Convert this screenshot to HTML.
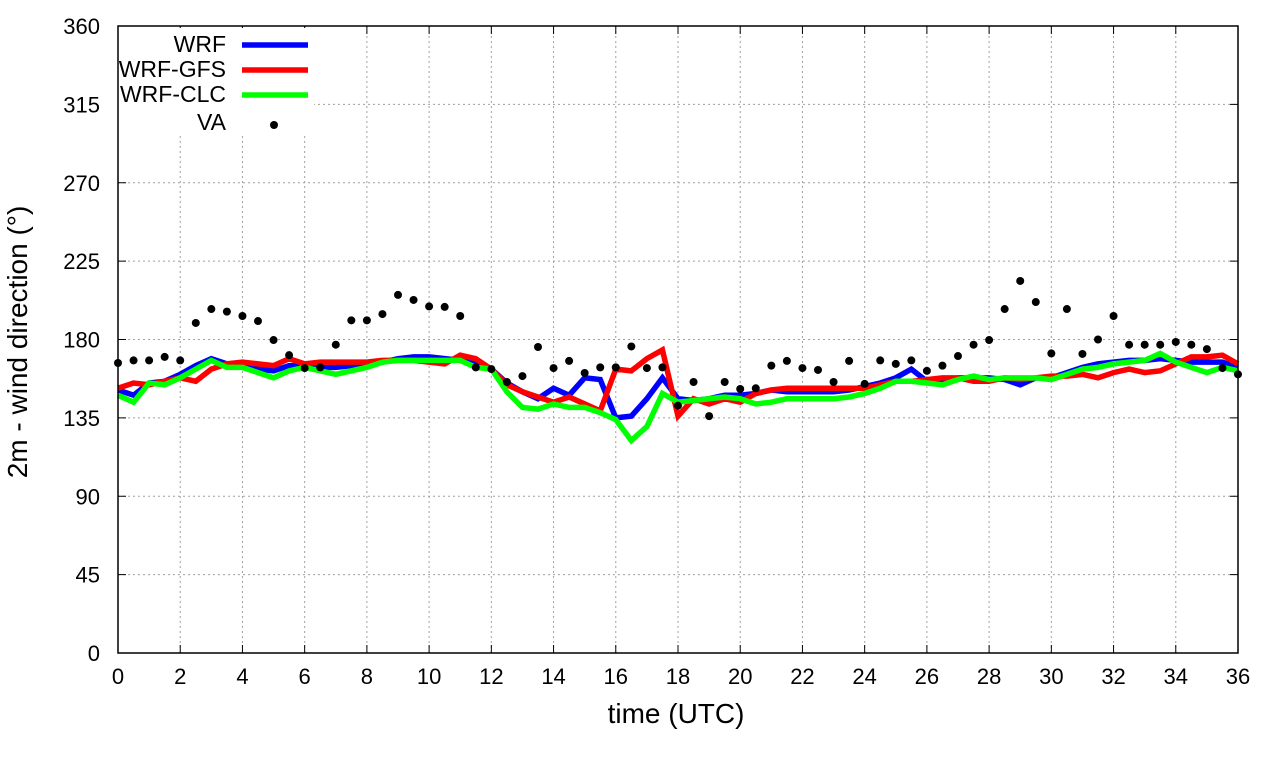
<!DOCTYPE html>
<html><head><meta charset="utf-8"><style>
body{margin:0;background:#fff;}
svg{display:block;font-family:"Liberation Sans",sans-serif;}
</style></head><body>
<svg id="chart" width="1280" height="760"></svg>
<script>
const hours=[];for(let i=0;i<=72;i++)hours.push(i*0.5);
const wrf=[151,148,155,156,160,165,169,166,165,163,162,165,165,164,164,165,166,167,169,170,170,169,168,166,163,155,150,146,152,148,158,157,135,136,146,158,146,145,146,148,148,149,151,150,150,150,150,151,153,155,158,163,156,155,158,158,158,157,154,158,158,161,164,166,167,168,168,169,168,167,167,167,164];
const wrfGfs=[152,155,154,156,158,156,163,166,167,166,165,169,166,167,167,167,167,168,168,168,167,166,171,169,163,154,150,147,144,147,143,139,163,162,169,174,136,146,143,146,144,149,151,152,152,152,152,152,152,154,156,156,157,158,158,156,156,158,157,158,159,159,160,158,161,163,161,162,166,170,170,171,166];
const wrfClc=[148,144,155,154,158,163,168,164,164,161,158,162,164,162,160,162,164,167,168,168,168,168,168,164,163,150,141,140,143,141,141,138,134,122,130,149,144,145,146,147,146,143,144,146,146,146,146,147,149,152,156,156,155,154,157,159,157,158,158,158,157,160,163,164,166,167,168,172,167,164,161,164,162];
const va=[166.5,168,168,170,168,189.5,197.5,196,193.5,190.6,179.7,171,163.6,164,177,191,191,194.6,205.6,202.7,199,198.7,193.5,164,163,155.6,159,175.7,163.6,167.7,160.8,164,164,176,163.6,164,142,155.6,136,155.6,151.6,152,165,167.7,163.6,162.5,155.6,167.7,154.5,168,166,168,162,165,170.5,177,179.7,197.5,213.6,201.5,172,197.5,171.7,180,193.5,177,177,177,178.6,177,174.5,163.6,160];
const xTicks=[0,2,4,6,8,10,12,14,16,18,20,22,24,26,28,30,32,34,36];
const yTicks=[0,45,90,135,180,225,270,315,360];

const svg=document.getElementById('chart');
const NS='http://www.w3.org/2000/svg';
const L=118,R=1238,T=26,B=653;
const xs=v=>L+(v/36)*(R-L);
const ys=v=>B-(v/360)*(B-T);
function mk(tag,attrs,parent){const e=document.createElementNS(NS,tag);for(const k in attrs)e.setAttribute(k,attrs[k]);(parent||svg).appendChild(e);return e;}

const grid=mk('g',{});


xTicks.forEach(t=>{
  if(t>0&&t<36){const g=mk('line',{x1:xs(t),x2:xs(t),y1:T,y2:B,stroke:'#a0a0a0','stroke-dasharray':'2,3','stroke-width':1},grid);
  
  }
  const tx=mk('text',{x:xs(t),y:B+31,'text-anchor':'middle','font-size':22,fill:'#000'});
  tx.textContent=t;
  
  
  mk('line',{x1:xs(t),x2:xs(t),y1:B,y2:B-8,stroke:'#000'});
  mk('line',{x1:xs(t),x2:xs(t),y1:T,y2:T+8,stroke:'#000'});
});
yTicks.forEach(t=>{
  if(t>0&&t<360){const g=mk('line',{x1:L,x2:R,y1:ys(t),y2:ys(t),stroke:'#a0a0a0','stroke-dasharray':'2,3','stroke-width':1},grid);
  
  }
  const tx=mk('text',{x:L-18,y:ys(t)+8,'text-anchor':'end','font-size':22,fill:'#000'});
  tx.textContent=t;
  
  
  mk('line',{x1:L,x2:L+8,y1:ys(t),y2:ys(t),stroke:'#000'});
  mk('line',{x1:R,x2:R-8,y1:ys(t),y2:ys(t),stroke:'#000'});
});

const lb=mk('rect',{x:108,y:28,width:206,height:108,fill:'#fff'});



function line(arr,color,name){
  const p=mk('polyline',{points:arr.map((v,i)=>xs(hours[i])+','+ys(v)).join(' '),fill:'none',stroke:color,'stroke-width':5.5,'stroke-linejoin':'miter'});
  
  
}
line(wrf,'#0000ff','series-wrf');
line(wrfGfs,'#ff0000','series-wrf-gfs');
line(wrfClc,'#00ff00','series-wrf-clc');
const dots=mk('g',{});


va.forEach((v,i)=>{const c=mk('circle',{cx:xs(hours[i]),cy:ys(v),r:4,fill:'#000'},dots);
  
  });

const ax=mk('rect',{x:L,y:T,width:R-L,height:B-T,fill:'none',stroke:'#000','stroke-width':1.5});



const leg=[['WRF','#0000ff',44],['WRF-GFS','#ff0000',69],['WRF-CLC','#00ff00',94],['VA','#000',122]];
leg.forEach(([n,c,y],i)=>{
  const g=mk('g',{});
  
  
  const t=mk('text',{x:226,y:y+8,'text-anchor':'end','font-size':23,fill:'#000'},g);t.textContent=n;
  if(i<3)mk('line',{x1:242,x2:308,y1:y+1,y2:y+1,stroke:c,'stroke-width':5.5},g);
  else mk('circle',{cx:274,cy:y+3,r:4,fill:'#000'},g);
});

const xt=mk('text',{x:676,y:723,'text-anchor':'middle','font-size':28,fill:'#000'});
xt.textContent='time (UTC)';


const yt=mk('text',{x:0,y:0,'text-anchor':'middle','font-size':28,fill:'#000',transform:'translate(27,342) rotate(-90)'});
yt.textContent='2m - wind direction (°)';


</script>
</body></html>
